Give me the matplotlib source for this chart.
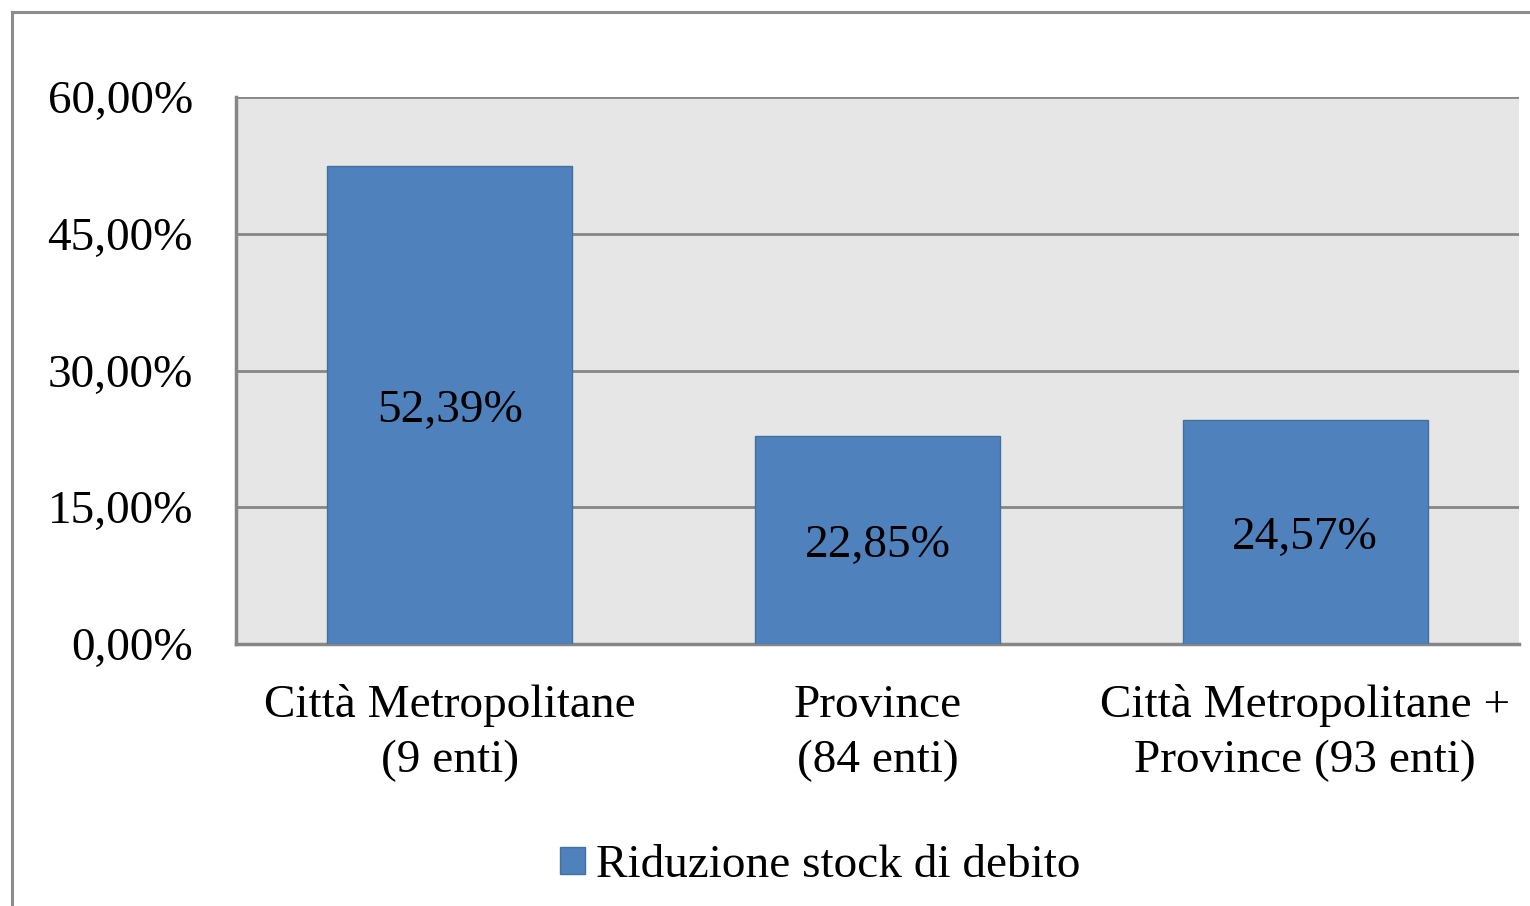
import matplotlib.pyplot as plt
import matplotlib as mpl
from matplotlib.lines import Line2D
from matplotlib.ticker import FuncFormatter

categories = ["Città Metropolitane\n(9 enti)", "Province\n(84 enti)", "Città Metropolitane +\nProvince (93 enti)"]
values = [52.39, 22.85, 24.57]
value_labels = ["52,39%", "22,85%", "24,57%"]
yticks = [0, 15, 30, 45, 60]
series_name = "Riduzione stock di debito"

mpl.rcParams['font.family'] = 'Liberation Serif'
mpl.rcParams['font.size'] = 34

bar_color = '#4f81bd'
grid_color = '#868686'

fig = plt.figure(figsize=(15.3, 9.06), dpi=100)
ax = fig.add_axes([236 / 1530, 1 - 644 / 906, (1519 - 236) / 1530, (644 - 97) / 906])

# outer chart frame (clipped on right and bottom)
fig.add_artist(Line2D([12 / 1530, 12 / 1530], [0, 1 - 12 / 906], color='#8c8c8c', lw=2.2, transform=fig.transFigure))
fig.add_artist(Line2D([12 / 1530, 1], [1 - 12 / 906, 1 - 12 / 906], color='#8c8c8c', lw=2.2, transform=fig.transFigure))

ax.set_facecolor('#e6e6e6')
x = range(len(categories))
bars = ax.bar(x, values, width=0.573, color=bar_color, edgecolor='#41719c', lw=1, zorder=3, label=series_name)

for xi, v, lab in zip(x, values, value_labels):
    ax.text(xi, v / 2 - 0.65, lab, ha='center', va='center', fontsize=34, zorder=4)

ax.set_xlim(-0.5, 2.5)
ax.set_ylim(0, 60)
ax.set_yticks(yticks)
ax.yaxis.set_major_formatter(FuncFormatter(lambda v, p: f"{v:.2f}".replace('.', ',') + '%'))
ax.set_xticks(list(x))
ax.set_xticklabels(categories, linespacing=1.38)
ax.tick_params(axis='y', length=0, pad=31)
ax.tick_params(axis='x', length=0, pad=29)
ax.yaxis.grid(True, color=grid_color, lw=2, zorder=1)

for s in ['top', 'right']:
    ax.spines[s].set_visible(False)
ax.spines['left'].set_color(grid_color)
ax.spines['bottom'].set_color(grid_color)
ax.spines['left'].set_linewidth(2.5)
ax.spines['bottom'].set_linewidth(2.5)

fig.legend(handles=[bars], labels=[series_name], loc='center', bbox_to_anchor=(0.536, 1 - 866 / 906),
           frameon=False, handlelength=0.53, handleheight=0.53, handletextpad=0.23, fontsize=34)

fig.savefig('out.png', dpi=100)
